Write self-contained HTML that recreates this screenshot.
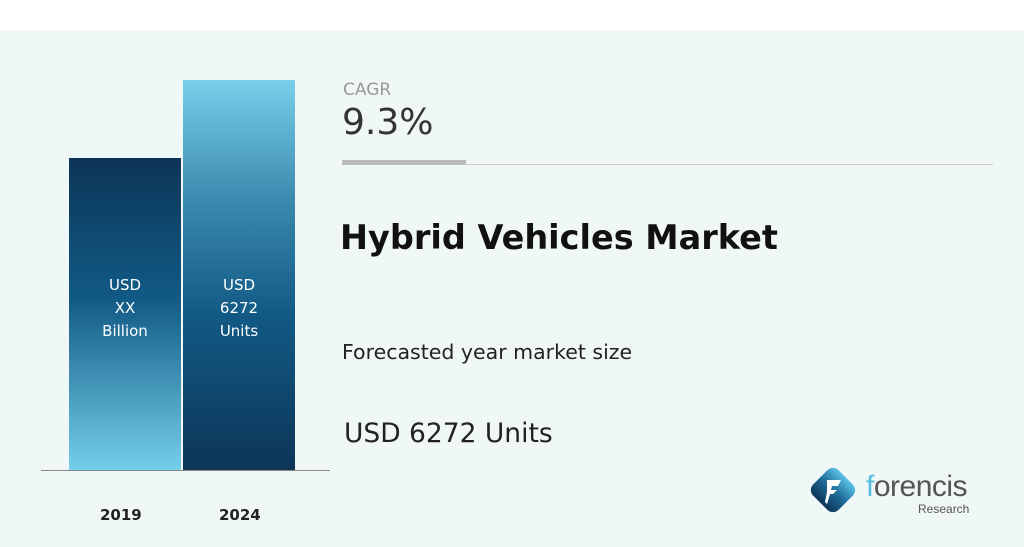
<!DOCTYPE html>
<html><head><style>
body{margin:0;width:1024px;height:547px;background:#fff;position:relative;overflow:hidden;font-family:"DejaVu Sans","Liberation Sans",sans-serif}
.bg{position:absolute;left:0;top:30px;width:1024px;height:517px;background:#f0f8f7}
.a{position:absolute}
.bar{position:absolute;color:#fff;text-align:center;font-size:15px;line-height:23px}
</style></head><body>
<div class="bg"></div>
<div class="bar" style="left:69px;top:158px;width:112px;height:312px;background:linear-gradient(#0d3557,#115a85 45%,#74cfea)"><div style="margin-top:116px">USD<br>XX<br>Billion</div></div>
<div class="bar" style="left:183px;top:80px;width:112px;height:390px;background:linear-gradient(#78d0ea,#3d8bb0 30%,#115a85 60%,#0d3557)"><div style="margin-top:194px">USD<br>6272<br>Units</div></div>
<div class="a" style="left:41px;top:470px;width:289px;height:1px;background:#888"></div>
<div class="a" style="left:100px;top:506px;font-size:15px;font-weight:bold;color:#222">2019</div>
<div class="a" style="left:219px;top:506px;font-size:15px;font-weight:bold;color:#222">2024</div>
<div class="a" style="left:343px;top:80px;font-size:17px;color:#999">CAGR</div>
<div class="a" style="left:342px;top:102px;font-size:36px;color:#333">9.3%</div>
<div class="a" style="left:342px;top:164px;width:651px;height:1px;background:#ccc"></div>
<div class="a" style="left:342px;top:160px;width:124px;height:5px;background:#bbb"></div>
<div class="a" style="left:340px;top:218px;font-size:33.5px;font-weight:bold;color:#111">Hybrid Vehicles Market</div>
<div class="a" style="left:342px;top:340px;font-size:20.5px;color:#222">Forecasted year market size</div>
<div class="a" style="left:344px;top:418px;font-size:26.5px;color:#222">USD 6272 Units</div>
<svg class="a" style="left:805px;top:462px" width="56" height="56" viewBox="0 0 56 56">
<defs><linearGradient id="g" x1="0" y1="0" x2="0" y2="1"><stop offset="0" stop-color="#5cc3e8"/><stop offset="0.5" stop-color="#1e6b98"/><stop offset="1" stop-color="#0d3557"/></linearGradient></defs>
<rect x="10" y="10" width="36" height="36" rx="8" transform="rotate(45 28 28)" fill="url(#g)"/>
<path d="M22 18h14l-3 6h-6l-1 4h6l-4 4h-3l-3 10-2-2 2-10z" fill="#fff"/>
</svg>
<div class="a" style="left:866px;top:470px;font-size:30px;color:#5bbde0;font-family:'Liberation Sans',sans-serif;letter-spacing:-0.5px">f<span style="color:#555">orencis</span></div>
<div class="a" style="left:918px;top:502px;font-size:12px;color:#555;font-family:'Liberation Sans',sans-serif">Research</div>
</body></html>
